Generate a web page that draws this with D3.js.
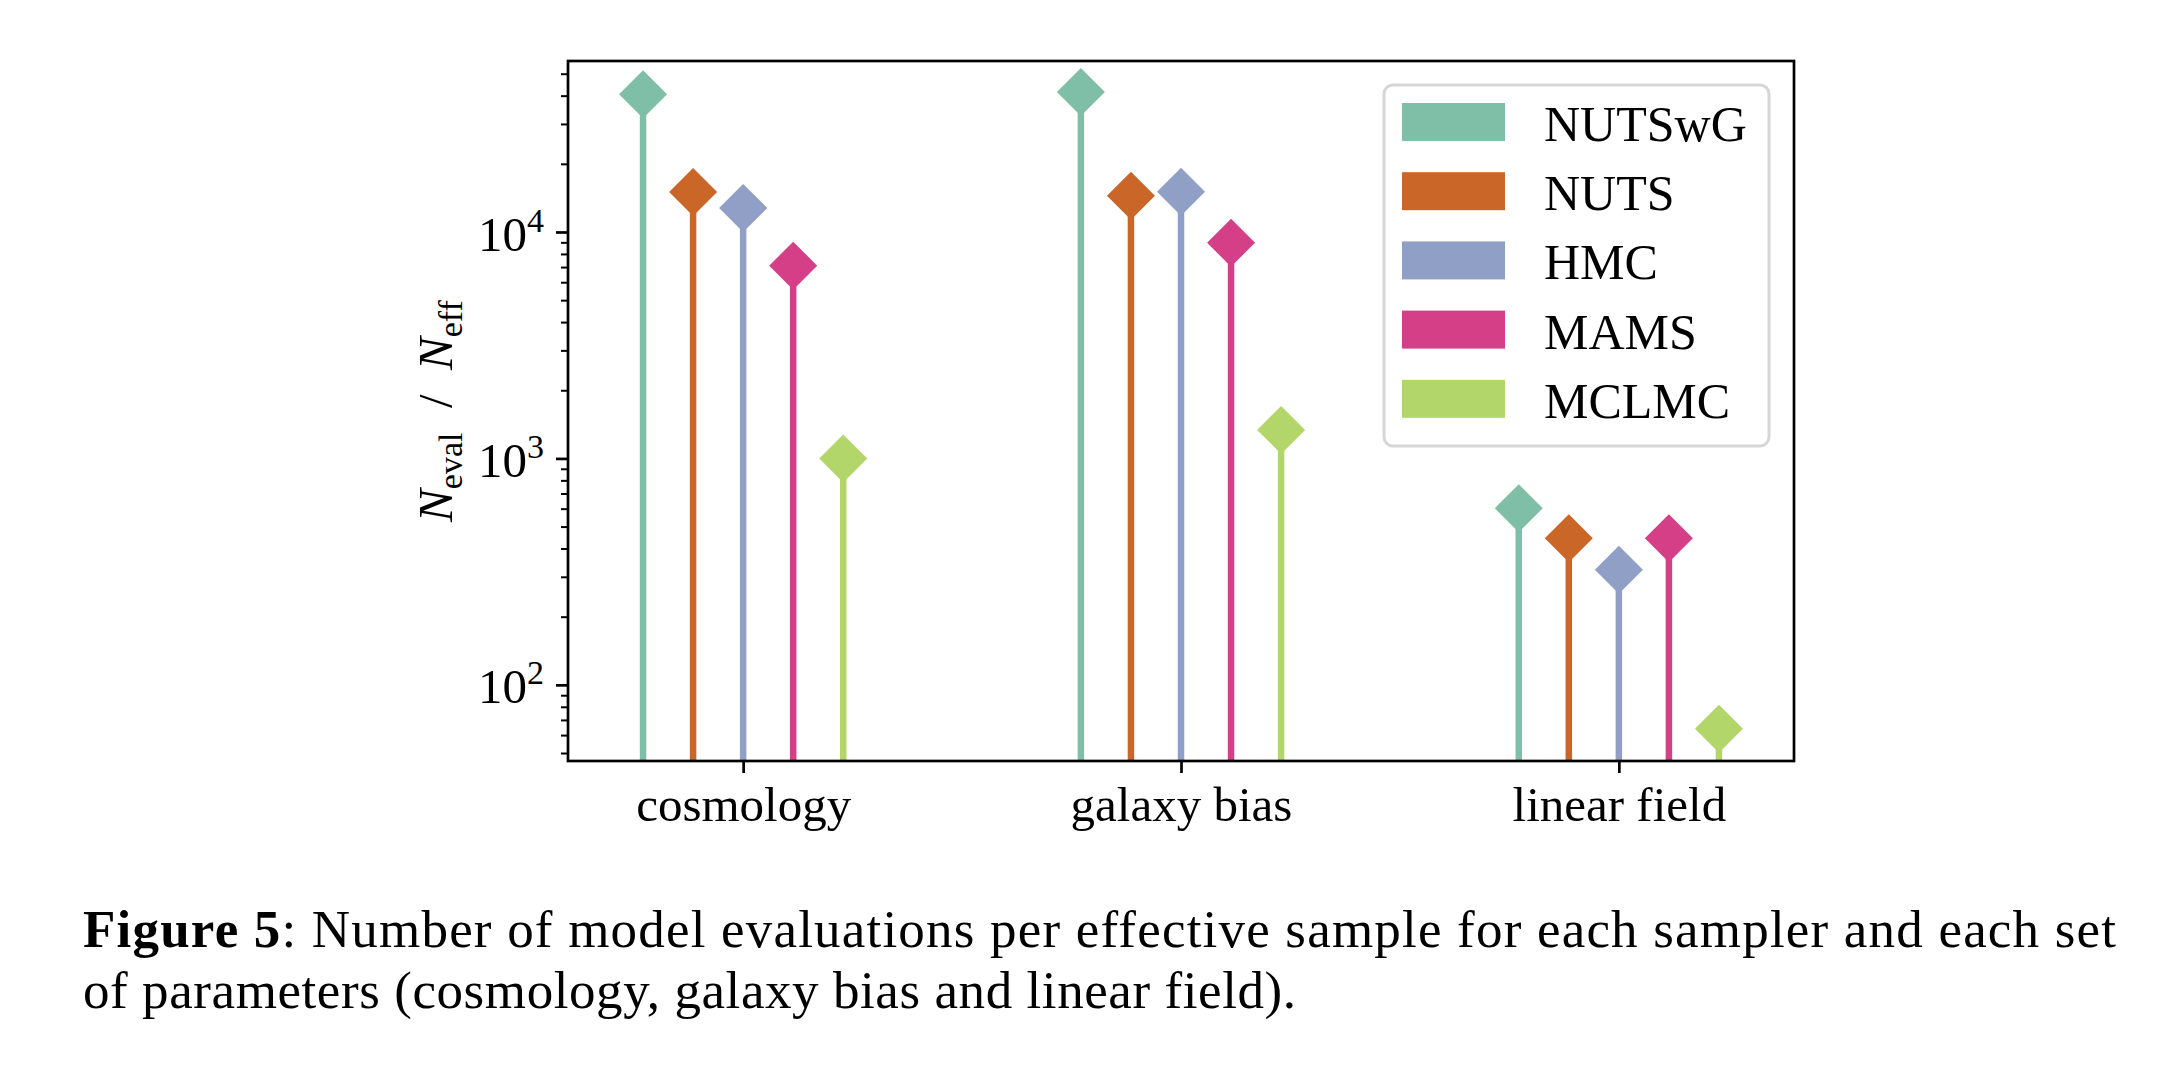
<!DOCTYPE html>
<html>
<head>
<meta charset="utf-8">
<script src="https://cdn.jsdelivr.net/npm/d3@7"></script>
<style>
    html, body { margin: 0; padding: 0; background: #fff; }
    svg { display: block; }
    text { font-family: 'Liberation Serif', 'DejaVu Serif', serif; fill: #000; }
</style>
</head>
<body>
<svg id="chart"></svg>
<script>
/**
 * Categories on the x axis (sets of parameters).
 * @type {string[]}
 */
const categories = ['cosmology', 'galaxy bias', 'linear field'];

/**
 * Samplers, in legend order.
 * @type {string[]}
 */
const samplers = ['NUTSwG', 'NUTS', 'HMC', 'MAMS', 'MCLMC'];

// N_eval / N_eff per category, one array per sampler
const nutswg = [40600, 41500, 603];
const nuts = [15000, 14450, 444];
const hmc = [12760, 15070, 322];
const mams = [7100, 8970, 444];
const mclmc = [1000, 1336, 64];

/**
 * Major tick values on the y axis (drawn as 10^k).
 * @type {number[]}
 */
const yTicks = [100, 1000, 10000];

const colors = ['#7fbfa8', '#c96628', '#8f9fc6', '#d43f87', '#b2d66a'];

const series = [nutswg, nuts, hmc, mams, mclmc];

const width = 2180;
const height = 1066;
const plot = { left: 568, right: 1794, top: 61, bottom: 761 };
const yMin = 46.1;
const yMax = 56900;
const offsetStep = 0.1143; // spacing between samplers, in category units
const markerHalf = 24;

const svg = d3.select('#chart')
    .attr('width', width)
    .attr('height', height);

svg.append('rect')
    .attr('width', width)
    .attr('height', height)
    .attr('fill', '#fff');

const x = d3.scaleLinear()
    .domain([-0.4, 2.4])
    .range([plot.left, plot.right]);

const y = d3.scaleLog()
    .domain([yMin, yMax])
    .range([plot.bottom, plot.top]);

// minor ticks (2..9 x 10^k) that fall inside the domain
const minorTicks = [];
[10, 100, 1000, 10000].forEach((base) => {
    for (let m = 2; m <= 9; m += 1) {
        const v = m * base;
        if (v >= yMin && v <= yMax) minorTicks.push(v);
    }
});

const g = svg.append('g');

// y axis, minor ticks first
g.append('g')
    .attr('transform', `translate(${plot.left},0)`)
    .call(d3.axisLeft(y).tickValues(minorTicks).tickSize(7).tickFormat(''))
    .call((sel) => sel.select('.domain').remove())
    .call((sel) => sel.selectAll('line').attr('stroke', '#000').attr('stroke-width', 2));

const yAxis = g.append('g')
    .attr('transform', `translate(${plot.left},0)`)
    .call(d3.axisLeft(y).tickValues(yTicks).tickSize(12).tickPadding(12).tickFormat(''))
    .call((sel) => sel.select('.domain').remove());

yAxis.selectAll('line').attr('stroke', '#000').attr('stroke-width', 2.7);

yAxis.selectAll('text')
    .attr('font-size', 49)
    .attr('dy', '0.37em')
    .each(function addPower(d) {
        const t = d3.select(this);
        t.append('tspan').text('10');
        t.append('tspan')
            .attr('font-size', 34)
            .attr('dy', -19)
            .text(Math.round(Math.log10(d)));
    });

// x axis
const xAxis = g.append('g')
    .attr('transform', `translate(0,${plot.bottom})`)
    .call(d3.axisBottom(x)
        .tickValues(d3.range(categories.length))
        .tickSize(12)
        .tickPadding(13)
        .tickFormat((i) => categories[i]))
    .call((sel) => sel.select('.domain').remove());

xAxis.selectAll('line').attr('stroke', '#000').attr('stroke-width', 2.7);
xAxis.selectAll('text')
    .attr('font-size', 49)
    .attr('font-family', "'Liberation Serif', serif");

// stems and diamond markers
const stems = g.append('g');
samplers.forEach((name, i) => {
    const dx = (i - 2) * offsetStep;
    const pts = series[i].map((v, c) => ({ cx: x(c + dx), cy: y(v) }));

    stems.append('g')
        .selectAll('line')
        .data(pts)
        .join('line')
        .attr('x1', (d) => d.cx)
        .attr('x2', (d) => d.cx)
        .attr('y1', y(yMin))
        .attr('y2', (d) => d.cy)
        .attr('stroke', colors[i])
        .attr('stroke-width', 6.5);

    stems.append('g')
        .selectAll('path')
        .data(pts)
        .join('path')
        .attr('d', (d) => `M${d.cx},${d.cy - markerHalf}L${d.cx + markerHalf},${d.cy}`
            + `L${d.cx},${d.cy + markerHalf}L${d.cx - markerHalf},${d.cy}Z`)
        .attr('fill', colors[i]);
});

// frame (all four spines)
g.append('rect')
    .attr('x', plot.left)
    .attr('y', plot.top)
    .attr('width', plot.right - plot.left)
    .attr('height', plot.bottom - plot.top)
    .attr('fill', 'none')
    .attr('stroke', '#000')
    .attr('stroke-width', 2.7);

// y label: N_eval / N_eff
const yLabel = g.append('text')
    .attr('transform', `translate(452,${(plot.top + plot.bottom) / 2}) rotate(-90)`)
    .attr('text-anchor', 'middle')
    .attr('font-size', 49)
    .attr('xml:space', 'preserve')
    .style('white-space', 'pre');
yLabel.append('tspan').attr('font-style', 'italic').text('N');
yLabel.append('tspan').attr('font-size', 34).attr('dy', 10).text('eval');
yLabel.append('tspan').attr('dy', -10).text('  /  ');
yLabel.append('tspan').attr('font-style', 'italic').text('N');
yLabel.append('tspan').attr('font-size', 34).attr('dy', 10).text('eff');

// legend
const legend = g.append('g');
legend.append('rect')
    .attr('x', 1384)
    .attr('y', 85)
    .attr('width', 1769 - 1384)
    .attr('height', 446 - 85)
    .attr('rx', 9)
    .attr('fill', 'rgba(255,255,255,0.8)')
    .attr('stroke', '#d6d6d6')
    .attr('stroke-width', 3);

const items = legend.selectAll('g.item')
    .data(samplers)
    .join('g')
    .attr('class', 'item')
    .attr('transform', (d, i) => `translate(1402,${103 + i * 69.2})`);

items.append('rect')
    .attr('width', 103)
    .attr('height', 38)
    .attr('fill', (d, i) => colors[i]);

items.append('text')
    .attr('x', 142)
    .attr('y', 38)
    .attr('font-size', 50)
    .text((d) => d);

// caption
const caption = svg.append('g').attr('font-size', 53);
const line1 = caption.append('text')
    .attr('x', 83)
    .attr('y', 947)
    .attr('textLength', 2033)
    .attr('lengthAdjust', 'spacing');
line1.append('tspan').attr('font-weight', 'bold').text('Figure 5');
line1.append('tspan').text(': Number of model evaluations per effective sample for each sampler and each set');

caption.append('text')
    .attr('x', 83)
    .attr('y', 1008)
    .attr('textLength', 1213)
    .attr('lengthAdjust', 'spacing')
    .text('of parameters (cosmology, galaxy bias and linear field).');
</script>
</body>
</html>
